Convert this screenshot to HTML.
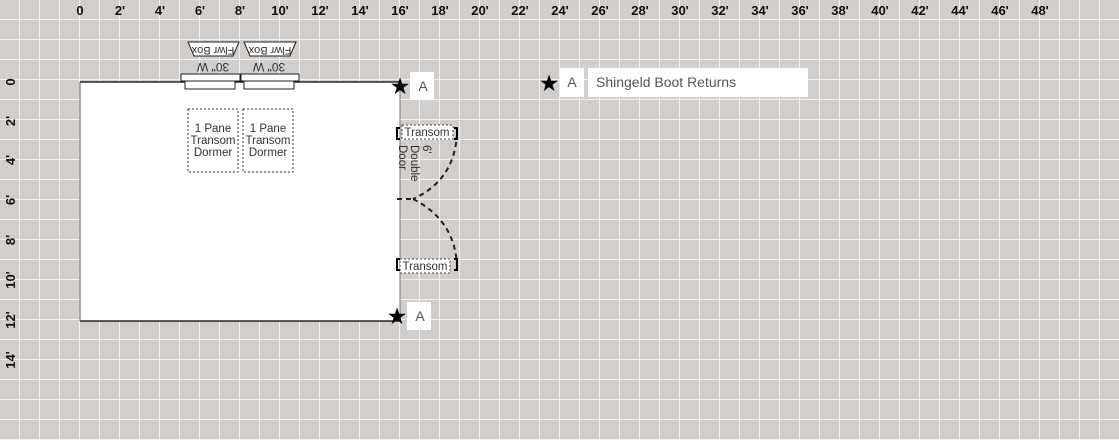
<!DOCTYPE html>
<html><head><meta charset="utf-8"><style>
html,body{margin:0;padding:0;background:#d3cfcc;}
svg{display:block;font-family:"Liberation Sans",sans-serif;}
</style></head><body>
<svg width="1119" height="440" viewBox="0 0 1119 440" xmlns="http://www.w3.org/2000/svg">
<defs>
<pattern id="g" width="20" height="20" patternUnits="userSpaceOnUse">
<rect width="20" height="20" fill="#d2cecb"/>
<rect x="19" y="0" width="2" height="20" fill="#f3f1ef"/>
<rect x="0" y="19" width="20" height="2" fill="#f3f1ef"/>
</pattern>
</defs>
<rect x="0" y="0" width="1119" height="440" fill="url(#g)"/>
<g font-size="13" font-weight="bold" fill="#111" text-anchor="middle">
<text x="80" y="15">0</text><text x="120" y="15">2'</text><text x="160" y="15">4'</text><text x="200" y="15">6'</text><text x="240" y="15">8'</text><text x="280" y="15">10'</text><text x="320" y="15">12'</text><text x="360" y="15">14'</text><text x="400" y="15">16'</text><text x="440" y="15">18'</text><text x="480" y="15">20'</text><text x="520" y="15">22'</text><text x="560" y="15">24'</text><text x="600" y="15">26'</text><text x="640" y="15">28'</text><text x="680" y="15">30'</text><text x="720" y="15">32'</text><text x="760" y="15">34'</text><text x="800" y="15">36'</text><text x="840" y="15">38'</text><text x="880" y="15">40'</text><text x="920" y="15">42'</text><text x="960" y="15">44'</text><text x="1000" y="15">46'</text><text x="1040" y="15">48'</text>
<text transform="translate(15,82) rotate(-90)">0</text>
<text transform="translate(15,121) rotate(-90)">2'</text>
<text transform="translate(15,160) rotate(-90)">4'</text>
<text transform="translate(15,200) rotate(-90)">6'</text>
<text transform="translate(15,240) rotate(-90)">8'</text>
<text transform="translate(15,280) rotate(-90)">10'</text>
<text transform="translate(15,320) rotate(-90)">12'</text>
<text transform="translate(15,360) rotate(-90)">14'</text>
</g>
<rect x="80" y="82" width="320" height="239" fill="#fff"/>
<line x1="80" y1="82" x2="400" y2="82" stroke="#000" stroke-width="1.2"/>
<line x1="80" y1="321" x2="400" y2="321" stroke="#000" stroke-width="1.2"/>
<line x1="80" y1="82" x2="80" y2="321" stroke="#555" stroke-width="1"/>
<line x1="400" y1="82" x2="400" y2="321" stroke="#777" stroke-width="1"/>
<g stroke="#222" stroke-width="1" fill="#fff">
<rect x="181" y="74" width="59" height="7"/><rect x="185" y="81" width="50" height="8"/>
<rect x="241" y="74" width="58" height="7"/><rect x="244" y="81" width="50" height="8"/>
<polygon points="188,42 239,42 233,56 194,56"/>
<polygon points="244,42 296,42 290,56 250,56"/>
</g>
<g font-size="11" fill="#333" text-anchor="middle">
<text transform="translate(213,45) rotate(180)" dy="-2">Flwr Box</text>
<text transform="translate(270,45) rotate(180)" dy="-2">Flwr Box</text>
<text transform="translate(213,60) rotate(180)" dy="-3" font-size="12">30" W</text>
<text transform="translate(269,60) rotate(180)" dy="-3" font-size="12">30" W</text>
</g>
<g stroke="#333" stroke-width="1" stroke-dasharray="2,2" fill="none">
<rect x="188" y="109" width="50" height="63"/>
<rect x="243" y="109" width="50" height="63"/>
</g>
<g font-size="11.5" fill="#333" text-anchor="middle">
<text x="213" y="132">1 Pane</text><text x="213" y="144">Transom</text><text x="213" y="156">Dormer</text>
<text x="268" y="132">1 Pane</text><text x="268" y="144">Transom</text><text x="268" y="156">Dormer</text>
</g>
<g stroke="#222" stroke-width="2" stroke-dasharray="5,4" fill="none">
<path d="M457,133 Q455,180 413,199"/>
<path d="M413,199 Q455,220 457,266"/>
<line x1="397" y1="199" x2="413" y2="199"/>
</g>
<g stroke="#000" stroke-width="2" fill="none">
<path d="M400,128 L397,128 L397,139 L400,139"/>
<path d="M454,128 L457,128 L457,139 L454,139"/>
<path d="M400,259 L397,259 L397,270 L400,270"/>
<path d="M454,259 L457,259 L457,270 L454,270"/>
</g>
<rect x="402" y="125" width="51" height="14" fill="#fff" stroke="#444" stroke-dasharray="2,2"/>
<rect x="400" y="259" width="50" height="14" fill="#fff" stroke="#444" stroke-dasharray="2,2"/>
<g font-size="11.5" fill="#333" text-anchor="middle">
<text x="427" y="136">Transom</text>
<text x="425" y="270">Transom</text>
</g>
<g font-size="11.5" fill="#333">
<text transform="translate(423,145) rotate(90)">6'</text>
<text transform="translate(411,145) rotate(90)">Double</text>
<text transform="translate(399,145) rotate(90)">Door</text>
</g>
<g fill="#000" font-size="23" text-anchor="middle">
<text x="400" y="94">★</text>
<text x="397" y="324">★</text>
<text x="549" y="91">★</text>
</g>
<rect x="410" y="72" width="24" height="28" fill="#fff"/>
<rect x="407" y="302" width="24" height="28" fill="#fff"/>
<rect x="560" y="68" width="24" height="29" fill="#fff"/>
<rect x="588" y="68" width="220" height="29" fill="#fff"/>
<g font-size="14" fill="#555">
<text x="423" y="91" text-anchor="middle">A</text>
<text x="420" y="321" text-anchor="middle">A</text>
<text x="572" y="87" text-anchor="middle">A</text>
<text x="596" y="87">Shingeld Boot Returns</text>
</g>
</svg>
</body></html>
